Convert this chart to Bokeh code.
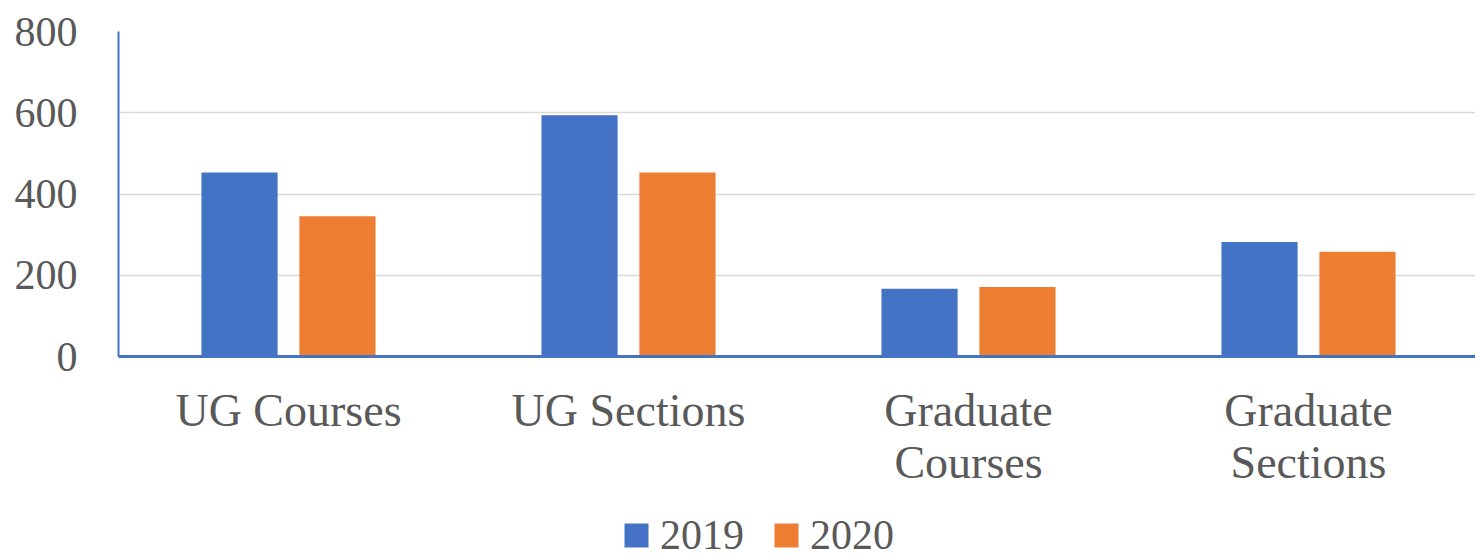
from bokeh.plotting import figure
from bokeh.layouts import column
from bokeh.models import (ColumnDataSource, Range1d, Legend, LegendItem, FixedTicker,
                          LinearAxis)
from bokeh.transform import dodge
from bokeh.embed import file_html
from bokeh.resources import INLINE

categories = ["UG Courses", "UG Sections", "Graduate Courses", "Graduate Sections"]
label_line1 = ["UG Courses", "UG Sections", "Graduate", "Graduate"]
label_line2 = ["", "", "Courses", "Sections"]
series_names = ["2019", "2020"]
values_2019 = [453, 594, 167, 282]
values_2020 = [345, 453, 171, 258]
y_ticks = [0, 200, 400, 600, 800]

BLUE = "#4472C4"
ORANGE = "#ED7D31"
TEXT = "#595959"
FONT = "Liberation Serif"

W = 1475
H_MAIN, H_LEG = 490, 69
LEFT, TOP, BOTTOM_Y = 118, 31, 358
CAT_PX = 340.0

pos = [i + 0.5 for i in range(len(categories))]
src = ColumnDataSource(dict(x=pos, y2019=values_2019, y2020=values_2020))
x_rng = Range1d(0, (W - LEFT) / CAT_PX)

p = figure(
    width=W, height=H_MAIN,
    x_range=x_rng,
    y_range=Range1d(0, 800),
    output_backend="svg", toolbar_location=None,
    min_border_left=LEFT, min_border_right=0, min_border_top=TOP,
    min_border_bottom=H_MAIN - BOTTOM_Y,
)
p.outline_line_color = None

p.vbar(x=dodge("x", -0.144), top="y2019", width=0.224,
       source=src, fill_color=BLUE, line_color=None)
p.vbar(x=dodge("x", 0.144), top="y2020", width=0.224,
       source=src, fill_color=ORANGE, line_color=None)

# y axis
p.yaxis.ticker = FixedTicker(ticks=y_ticks)
p.yaxis.axis_line_color = BLUE
p.yaxis.axis_line_width = 2
p.yaxis.major_tick_line_color = None
p.yaxis.minor_tick_line_color = None
p.yaxis.major_label_text_font = FONT
p.yaxis.major_label_text_font_size = "42px"
p.yaxis.major_label_text_color = TEXT
p.yaxis.major_label_standoff = 35

# x axis, first line of category labels
xa = p.xaxis[0]
xa.ticker = FixedTicker(ticks=pos)
xa.major_label_overrides = {x: t for x, t in zip(pos, label_line1)}
xa.axis_line_color = BLUE
xa.axis_line_width = 3
xa.major_tick_line_color = None
xa.minor_tick_line_color = None
xa.major_label_text_font = FONT
xa.major_label_text_font_size = "46px"
xa.major_label_text_color = TEXT
xa.major_label_standoff = 22

# second line of category labels
pos2 = [x for x, t in zip(pos, label_line2) if t]
xa2 = LinearAxis(ticker=FixedTicker(ticks=pos2),
                 major_label_overrides={x: t for x, t in zip(pos, label_line2) if t})
xa2.axis_line_color = None
xa2.major_tick_line_color = None
xa2.minor_tick_line_color = None
xa2.major_label_text_font = FONT
xa2.major_label_text_font_size = "46px"
xa2.major_label_text_color = TEXT
xa2.major_label_standoff = -8
p.add_layout(xa2, "below")

p.xgrid.grid_line_color = None
p.ygrid.grid_line_color = "#D9D9D9"
p.ygrid.grid_line_width = 1.5

# legend strip: hidden renderers of the same series provide the swatches
pl = figure(
    width=W, height=H_LEG,
    x_range=x_rng, y_range=Range1d(-2, -1),
    output_backend="svg", toolbar_location=None,
    x_axis_location=None, y_axis_location=None,
    min_border=0,
)
pl.outline_line_color = None
pl.grid.visible = False
lr1 = pl.vbar(x=dodge("x", -0.144), top="y2019", width=0.224,
              source=src, fill_color=BLUE, line_color=None)
lr2 = pl.vbar(x=dodge("x", 0.144), top="y2020", width=0.224,
              source=src, fill_color=ORANGE, line_color=None)
lr1.visible = False
lr2.visible = False

legend = Legend(
    items=[LegendItem(label=series_names[0], renderers=[lr1]),
           LegendItem(label=series_names[1], renderers=[lr2])],
    orientation="horizontal",
    location=(503, 0),
    label_text_font=FONT,
    label_text_font_size="42px",
    label_text_color=TEXT,
    glyph_width=30, glyph_height=30,
    label_standoff=9,
    spacing=27,
    padding=0,
    margin=0,
    border_line_color=None,
    background_fill_alpha=0,
    inactive_fill_alpha=0,
)
pl.add_layout(legend, "center")

layout = column(p, pl, spacing=0)
open("out.html", "w").write(file_html(layout, INLINE))
